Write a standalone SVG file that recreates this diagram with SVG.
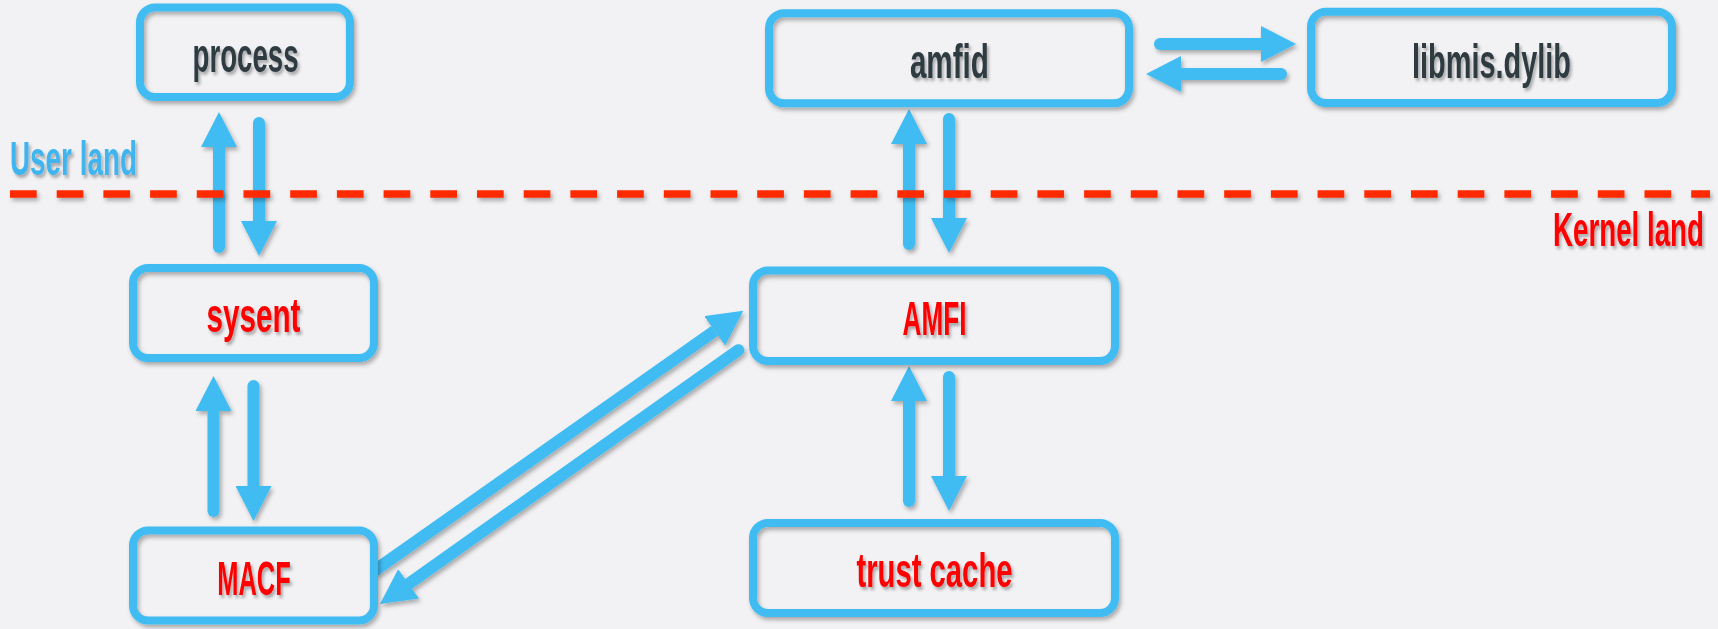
<svg xmlns="http://www.w3.org/2000/svg" width="1718" height="629" viewBox="0 0 1718 629">
  <defs>
    <filter id="sh" x="-10%" y="-10%" width="130%" height="140%">
      <feDropShadow dx="2" dy="3" stdDeviation="2" flood-color="#000" flood-opacity="0.3"/>
    </filter>
    <filter id="lsh" filterUnits="userSpaceOnUse" x="0" y="180" width="1718" height="30">
      <feDropShadow dx="2" dy="3" stdDeviation="2" flood-color="#000" flood-opacity="0.3"/>
    </filter>
    <filter id="tsh" x="-10%" y="-20%" width="130%" height="150%">
      <feDropShadow dx="2" dy="3" stdDeviation="1.5" flood-color="#000" flood-opacity="0.3"/>
    </filter>
    <marker id="ah" markerWidth="36" markerHeight="36" refX="0" refY="18" orient="auto" markerUnits="userSpaceOnUse" viewBox="0 0 36 36">
      <path d="M0,0 L35,18 L0,36 z" fill="#3fbcf2"/>
    </marker>
  </defs>
  <style>
    .box { fill: none; stroke: #3fbcf2; stroke-width: 8; }
    .conn { stroke: #3fbcf2; stroke-width: 12; stroke-linecap: round; fill: none; marker-end: url(#ah); }
    .lbl { font-family: "Liberation Sans Narrow", "Liberation Sans", Arial, sans-serif; font-weight: bold; font-size: 49px; text-anchor: middle; }
    .dark { fill: #2e3a41; }
    .red { fill: #ff0000; }
    .blue { fill: #3fb4ee; }
  </style>
  <rect x="0" y="0" width="1718" height="629" fill="#f2f2f4"/>

  <g id="connectors" filter="url(#sh)">
    <line class="conn" x1="219" y1="247" x2="219" y2="147"/>
    <line class="conn" x1="259" y1="123" x2="259" y2="221"/>
    <line class="conn" x1="213.5" y1="511" x2="213.5" y2="411"/>
    <line class="conn" x1="253.5" y1="386" x2="253.5" y2="486"/>
    <line class="conn" x1="909" y1="244" x2="909" y2="144"/>
    <line class="conn" x1="949" y1="119" x2="949" y2="218"/>
    <line class="conn" x1="909" y1="501" x2="909" y2="401"/>
    <line class="conn" x1="949" y1="377" x2="949" y2="476"/>
    <line class="conn" x1="1160" y1="44" x2="1261" y2="44"/>
    <line class="conn" x1="1281" y1="74" x2="1181" y2="74"/>
    <line class="conn" style="stroke-linecap: butt" x1="374" y1="571" x2="714.7" y2="330.9"/>
    <line class="conn" x1="738.4" y1="350.2" x2="408.6" y2="583.8"/>
  </g>

  <g id="boundary" filter="url(#lsh)">
    <line x1="10" y1="194" x2="1710" y2="194" stroke="#ff2a00" stroke-width="7.5" stroke-dasharray="26.7 20"/>
  </g>
  <text class="lbl blue" x="10" y="175" style="text-anchor: start" textLength="127" lengthAdjust="spacingAndGlyphs" filter="url(#tsh)">User land</text>
  <text class="lbl red" x="1704" y="246" style="text-anchor: end" textLength="151" lengthAdjust="spacingAndGlyphs" filter="url(#tsh)">Kernel land</text>

  <g id="process">
    <rect class="box" x="140" y="7.5" width="210" height="89.5" rx="15" filter="url(#sh)"/>
    <text class="lbl dark" x="245.5" y="72" textLength="106" lengthAdjust="spacingAndGlyphs" filter="url(#tsh)">process</text>
  </g>
  <g id="amfid">
    <rect class="box" x="769" y="13.3" width="360" height="90" rx="15" filter="url(#sh)"/>
    <text class="lbl dark" x="949.4" y="77.5" textLength="79" lengthAdjust="spacingAndGlyphs" filter="url(#tsh)">amfid</text>
  </g>
  <g id="libmis">
    <rect class="box" x="1311" y="11.7" width="361" height="91.3" rx="15" filter="url(#sh)"/>
    <text class="lbl dark" x="1491.5" y="77.5" textLength="159" lengthAdjust="spacingAndGlyphs" filter="url(#tsh)">libmis.dylib</text>
  </g>
  <g id="sysent">
    <rect class="box" x="133" y="268" width="241" height="90" rx="15" filter="url(#sh)"/>
    <text class="lbl red" x="253.5" y="332" textLength="94" lengthAdjust="spacingAndGlyphs" filter="url(#tsh)">sysent</text>
  </g>
  <g id="AMFI">
    <rect class="box" x="753" y="270.5" width="362" height="90.5" rx="15" filter="url(#sh)"/>
    <text class="lbl red" x="934.5" y="335" textLength="64" lengthAdjust="spacingAndGlyphs" filter="url(#tsh)">AMFI</text>
  </g>
  <g id="MACF">
    <rect class="box" x="133" y="530.5" width="241" height="90" rx="15" filter="url(#sh)"/>
    <text class="lbl red" x="254" y="595" textLength="73.5" lengthAdjust="spacingAndGlyphs" filter="url(#tsh)">MACF</text>
  </g>
  <g id="trust-cache">
    <rect class="box" x="753" y="523" width="362" height="90" rx="15" filter="url(#sh)"/>
    <text class="lbl red" x="934.5" y="587" textLength="156" lengthAdjust="spacingAndGlyphs" filter="url(#tsh)">trust cache</text>
  </g>
</svg>
